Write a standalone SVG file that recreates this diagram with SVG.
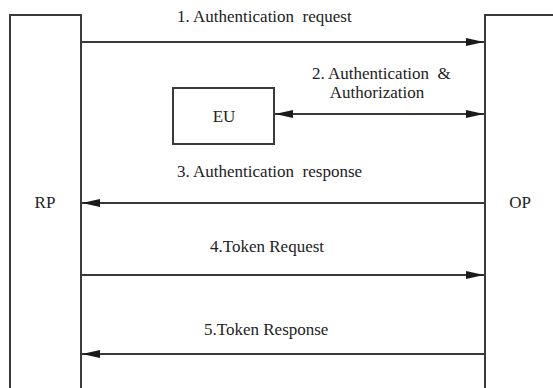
<svg xmlns="http://www.w3.org/2000/svg" width="553" height="388" viewBox="0 0 553 388">
<defs>
<marker id="ah" viewBox="0 0 18 8" refX="18" refY="4" markerWidth="18" markerHeight="8" markerUnits="userSpaceOnUse" orient="auto-start-reverse">
<path d="M0,0 L18,4 L0,8 Z" fill="#1a1a1a"/>
</marker>
</defs>
<style>
.box{fill:#fff;stroke:#3a3a3a;stroke-width:2}
.ln{stroke:#3a3a3a;stroke-width:2;fill:none}
.t{font-family:'Liberation Serif','DejaVu Serif',serif;font-size:17px;fill:#222}
</style>
<rect width="553" height="388" fill="#fff"/>
<g id="RP">
<rect class="box" x="10" y="15" width="71" height="380"/>
<text class="t" x="45" y="208" text-anchor="middle">RP</text>
</g>
<g id="OP">
<rect class="box" x="485" y="15" width="80" height="380"/>
<text class="t" x="520" y="208" text-anchor="middle">OP</text>
</g>
<g id="EU">
<rect class="box" x="173" y="88" width="101" height="56"/>
<text class="t" x="224" y="122" text-anchor="middle">EU</text>
</g>
<g id="connectors">
<line class="ln" x1="81" y1="42" x2="484" y2="42" marker-end="url(#ah)"/>
<line class="ln" x1="275" y1="114" x2="484" y2="114" marker-start="url(#ah)" marker-end="url(#ah)"/>
<line class="ln" x1="485" y1="203" x2="82" y2="203" marker-end="url(#ah)"/>
<line class="ln" x1="81" y1="275" x2="484" y2="275" marker-end="url(#ah)"/>
<line class="ln" x1="485" y1="354" x2="82" y2="354" marker-end="url(#ah)"/>
</g>
<g id="labels">
<text class="t" x="177" y="22" xml:space="preserve">1. Authentication  request</text>
<text class="t" x="312" y="79" xml:space="preserve">2. Authentication  &amp;</text>
<text class="t" x="377" y="98" text-anchor="middle">Authorization</text>
<text class="t" x="177" y="177" xml:space="preserve">3. Authentication  response</text>
<text class="t" x="210" y="252">4.Token Request</text>
<text class="t" x="204" y="335">5.Token Response</text>
</g>
</svg>
